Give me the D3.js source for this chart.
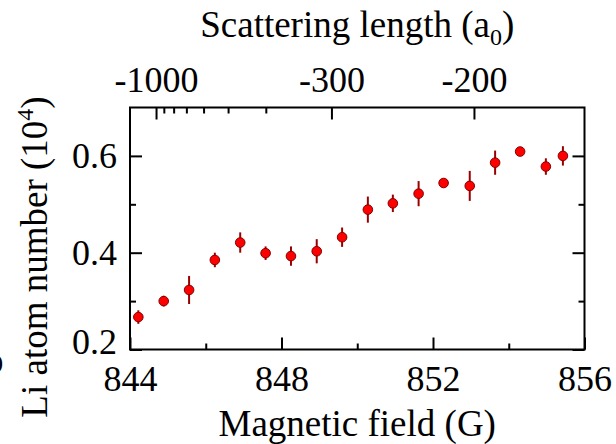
<!DOCTYPE html>
<html>
<head>
<meta charset="utf-8">
<script src="https://cdn.jsdelivr.net/npm/d3@7"></script>
<style>
  html, body { margin: 0; padding: 0; background: #fff; }
  svg { display: block; }
  text { font-family: "Liberation Serif", "Times New Roman", serif; fill: #000; }
</style>
</head>
<body>
<svg id="chart" width="616" height="444"></svg>
<script>
// ── Data ──────────────────────────────────────────────────────────────────────
const fieldG     = [844.22, 844.89, 845.56, 846.24, 846.91, 847.58, 848.25, 848.93, 849.60,
                    850.28, 850.94, 851.62, 852.28, 852.97, 853.64, 854.30, 854.98, 855.43];
const atomNumber = [0.267, 0.300, 0.323, 0.385, 0.421, 0.399, 0.393, 0.403, 0.432,
                    0.489, 0.502, 0.522, 0.544, 0.538, 0.586, 0.609, 0.578, 0.600];
const atomErr    = [0.014, 0.011, 0.029, 0.015, 0.021, 0.014, 0.020, 0.025, 0.020,
                    0.027, 0.018, 0.026, 0.008, 0.031, 0.025, 0.008, 0.017, 0.020];

const bottomTicks = [844, 848, 852, 856];
const bottomMinor = [846, 850, 854];
const leftTicks   = [0.2, 0.4, 0.6];
const leftMinor   = [0.3, 0.5];
const topTicks    = [-1000, -300, -200];
const topMinor    = [-900, -800, -700, -600, -500, -400];

// scattering length a(B) = A_BG - K / (B - B0)  ->  B(a) = B0 + K / (A_BG - a)
const A_BG = -29.35, K_RES = 1738, B0 = 842.91;
const fieldFromA = a => B0 + K_RES / (A_BG - a);

// ── Layout ────────────────────────────────────────────────────────────────────
const W = 616, H = 444;
const margin = { left: 130, top: 107.5, right: 31.5, bottom: 94.5 };
const pw = W - margin.left - margin.right;
const ph = H - margin.top - margin.bottom;
const MAJOR = 12, MINOR = 6;
const TICK_FONT = 36, TITLE_FONT = 37;

const svg = d3.select('#chart');
const g = svg.append('g').attr('transform', `translate(${margin.left},${margin.top})`);

const x = d3.scaleLinear().domain([844, 856]).range([0, pw]);
const y = d3.scaleLinear().domain([0.2, 0.7]).range([ph, 0]);

function styleAxis(sel) {
  sel.select('.domain').remove();
  sel.selectAll('.tick line').attr('stroke', '#000').attr('stroke-width', 2);
  sel.selectAll('.tick text').attr('font-size', TICK_FONT)
    .attr('font-family', '"Liberation Serif", "Times New Roman", serif').attr('fill', '#000');
}

// ── Bottom axis ───────────────────────────────────────────────────────────────
g.append('g').attr('transform', `translate(0,${ph})`)
  .call(d3.axisBottom(x).tickValues(bottomMinor).tickSize(-MINOR).tickFormat(''))
  .call(styleAxis);
g.append('g').attr('transform', `translate(0,${ph})`)
  .call(d3.axisBottom(x).tickValues(bottomTicks).tickSize(-MAJOR).tickPadding(16).tickFormat(d3.format('d')))
  .call(styleAxis);

// ── Left / right axes ─────────────────────────────────────────────────────────
g.append('g')
  .call(d3.axisLeft(y).tickValues(leftMinor).tickSize(-MINOR).tickFormat(''))
  .call(styleAxis);
const leftAx = g.append('g')
  .call(d3.axisLeft(y).tickValues(leftTicks).tickSize(-MAJOR).tickPadding(13).tickFormat(d3.format('.1f')))
  .call(styleAxis);
leftAx.selectAll('.tick text').filter(d => d === 0.2).attr('dy', '0.1em');

g.append('g').attr('transform', `translate(${pw},0)`)
  .call(d3.axisRight(y).tickValues(leftMinor).tickSize(-MINOR).tickFormat(''))
  .call(styleAxis);
g.append('g').attr('transform', `translate(${pw},0)`)
  .call(d3.axisRight(y).tickValues(leftTicks).tickSize(-MAJOR).tickFormat(''))
  .call(styleAxis);

// ── Top axis (scattering length, non-linear) ──────────────────────────────────
const topG = g.append('g');
topG.selectAll('line.minor').data(topMinor).join('line').attr('class', 'minor')
  .attr('x1', d => x(fieldFromA(d))).attr('x2', d => x(fieldFromA(d)))
  .attr('y1', 0).attr('y2', MINOR)
  .attr('stroke', '#000').attr('stroke-width', 2);
topG.selectAll('line.major').data(topTicks).join('line').attr('class', 'major')
  .attr('x1', d => x(fieldFromA(d))).attr('x2', d => x(fieldFromA(d)))
  .attr('y1', 0).attr('y2', MAJOR)
  .attr('stroke', '#000').attr('stroke-width', 2);
topG.selectAll('text').data(topTicks).join('text')
  .attr('x', d => x(fieldFromA(d))).attr('y', -16)
  .attr('text-anchor', 'middle').attr('font-size', TICK_FONT)
  .text(d => d);

// ── Error bars and points ─────────────────────────────────────────────────────
const pts = fieldG.map((b, i) => ({ b, v: atomNumber[i], e: atomErr[i] }));
g.append('g').selectAll('line').data(pts).join('line')
  .attr('x1', d => x(d.b)).attr('x2', d => x(d.b))
  .attr('y1', d => y(d.v - d.e)).attr('y2', d => y(d.v + d.e))
  .attr('stroke', '#990000').attr('stroke-width', 2);
g.append('g').selectAll('circle').data(pts).join('circle')
  .attr('cx', d => x(d.b)).attr('cy', d => y(d.v)).attr('r', 4.8)
  .attr('fill', '#ff0000').attr('stroke', '#800000').attr('stroke-width', 1);

// ── Frame ─────────────────────────────────────────────────────────────────────
g.append('rect').attr('width', pw).attr('height', ph)
  .attr('fill', 'none').attr('stroke', '#000').attr('stroke-width', 2);

// ── Titles ────────────────────────────────────────────────────────────────────
svg.append('text').attr('x', margin.left + pw / 2).attr('y', 436)
  .attr('text-anchor', 'middle').attr('font-size', TITLE_FONT)
  .text('Magnetic field (G)');

const topTitle = svg.append('text').attr('x', margin.left + pw / 2).attr('y', 37)
  .attr('text-anchor', 'middle').attr('font-size', TITLE_FONT);
topTitle.append('tspan').text('Scattering length (a');
topTitle.append('tspan').attr('dy', 8).attr('font-size', 24).text('0');
topTitle.append('tspan').attr('dy', -8).text(')');

const yTitle = svg.append('text').attr('transform', 'translate(47,257) rotate(-90)')
  .attr('text-anchor', 'middle').attr('font-size', TITLE_FONT);
yTitle.append('tspan').text('Li atom number (10');
yTitle.append('tspan').attr('dy', -14).attr('font-size', 24).text('4');
yTitle.append('tspan').attr('dy', 14).text(')');

// fragment of a neighbouring panel label cut by the left edge
svg.append('text').attr('x', 3.5).attr('y', 372.5).attr('text-anchor', 'end')
  .attr('font-size', TITLE_FONT).text('o');
</script>
</body>
</html>
